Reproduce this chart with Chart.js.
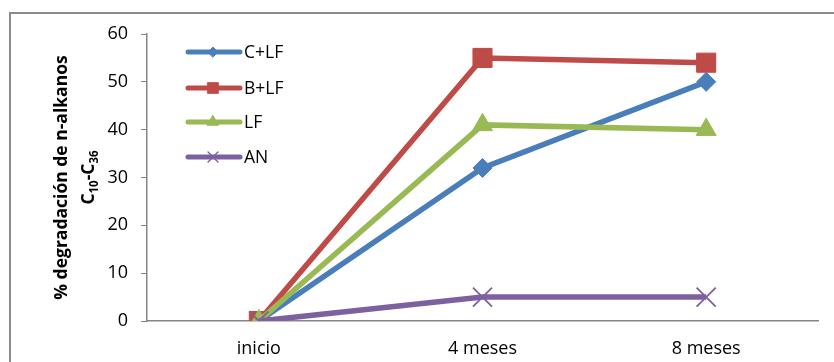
<!DOCTYPE html>
<html>
<head>
<meta charset="utf-8">
<script src="https://cdn.jsdelivr.net/npm/chart.js@4/dist/chart.umd.min.js"></script>
<style>
  html, body { margin: 0; padding: 0; background: #fff; }
  #wrap { width: 834px; height: 362px; position: relative; }
</style>
</head>
<body>
<div id="wrap"><canvas id="c" width="834" height="362"></canvas></div>
<script>
// Time points and degradation percentages per treatment
const categories = ['inicio', '4 meses', '8 meses'];
const seriesNames = ['C+LF', 'B+LF', 'LF', 'AN'];
const cLF = [0, 32, 50];
const bLF = [0, 55, 54];
const lf = [0, 41, 40];
const an = [0, 5, 5];
const yTicks = [0, 10, 20, 30, 40, 50, 60];

const FONT = '"Open Sans", "Liberation Sans", sans-serif';
const seriesValues = [cLF, bLF, lf, an];
const colors = ['#4a7ebb', '#be4b48', '#98b954', '#7d60a0'];
const styles = ['rectRot', 'rect', 'triangle', 'crossRot'];
const radii = [9.5, 13.5, 11.5, 13.5];
const legendRadii = [5, 7.5, 6.5, 7];

const datasets = seriesNames.map((name, i) => ({
  label: name,
  data: seriesValues[i],
  borderColor: colors[i],
  backgroundColor: colors[i],
  borderWidth: 5.5,
  pointStyle: styles[i],
  pointRadius: radii[i],
  pointBorderColor: colors[i],
  pointBackgroundColor: colors[i],
  pointBorderWidth: styles[i] === 'crossRot' ? 1.8 : 1,
  order: seriesNames.length - i,
  tension: 0,
  fill: false
}));

// Outer frame, rotated axis title with subscripts, and the inset legend
const decor = {
  id: 'decor',
  beforeDraw(chart) {
    const ctx = chart.ctx;
    ctx.save();
    ctx.fillStyle = '#fff';
    ctx.fillRect(0, 0, chart.width, chart.height);
    ctx.strokeStyle = '#8c8c8c';
    ctx.lineWidth = 2;
    ctx.strokeRect(10, 13, chart.width + 20, chart.height + 20);
    ctx.restore();
  },
  afterDraw(chart) {
    const ctx = chart.ctx;
    const area = chart.chartArea;
    const cy = (area.top + area.bottom) / 2;
    ctx.save();
    ctx.fillStyle = '#000';
    // axis title line 1
    ctx.translate(62, cy);
    ctx.rotate(-Math.PI / 2);
    ctx.textAlign = 'center';
    ctx.textBaseline = 'middle';
    ctx.font = 'bold 17.5px ' + FONT;
    ctx.fillText('% degradación de n-alkanos', 0, 0);
    ctx.restore();

    // axis title line 2: C10-C36 with subscripts
    ctx.save();
    ctx.fillStyle = '#000';
    ctx.translate(89, cy);
    ctx.rotate(-Math.PI / 2);
    ctx.textBaseline = 'middle';
    const parts = [['C', false], ['10', true], ['-C', false], ['36', true]];
    const big = 'bold 17.5px ' + FONT;
    const small = 'bold 11.5px ' + FONT;
    let total = 0;
    parts.forEach(([t, sub]) => { ctx.font = sub ? small : big; total += ctx.measureText(t).width; });
    let x = -total / 2;
    parts.forEach(([t, sub]) => {
      ctx.font = sub ? small : big;
      ctx.fillText(t, x, sub ? 6 : 0);
      x += ctx.measureText(t).width;
    });
    ctx.restore();

    // legend
    const rowsY = [52, 88, 122, 157];
    seriesNames.forEach((name, i) => {
      const y = rowsY[i];
      ctx.save();
      ctx.strokeStyle = colors[i];
      ctx.lineWidth = 5;
      ctx.lineCap = 'round';
      ctx.beginPath();
      ctx.moveTo(188, y);
      ctx.lineTo(240, y);
      ctx.stroke();
      ctx.fillStyle = colors[i];
      ctx.strokeStyle = colors[i];
      ctx.lineWidth = styles[i] === 'crossRot' ? 1.4 : 1;
      Chart.helpers.drawPoint(ctx, { pointStyle: styles[i], radius: legendRadii[i], rotation: 0, borderWidth: ctx.lineWidth }, 213, y);
      ctx.fillStyle = '#000';
      ctx.font = '17.5px ' + FONT;
      ctx.textBaseline = 'middle';
      ctx.textAlign = 'left';
      ctx.fillText(name, 244, y + 1);
      ctx.restore();
    });
  }
};

new Chart(document.getElementById('c'), {
  type: 'line',
  data: { labels: categories, datasets },
  plugins: [decor],
  options: {
    responsive: false,
    animation: false,
    layout: { padding: { left: 0, right: 16, top: 34, bottom: 0 } },
    plugins: { legend: { display: false }, tooltip: { enabled: false } },
    scales: {
      x: {
        offset: true,
        grid: { display: true, drawOnChartArea: false, drawTicks: false },
        border: { display: true, color: '#868686', width: 1.5 },
        ticks: { color: '#000', font: { family: FONT, size: 18 }, padding: 17 },
        afterFit(scale) { scale.height = 41; }
      },
      y: {
        min: 0,
        max: 60,
        afterBuildTicks(scale) { scale.ticks = yTicks.map(v => ({ value: v })); },
        grid: { display: true, drawOnChartArea: false, drawTicks: true, tickLength: 6, color: '#868686' },
        border: { display: true, color: '#868686', width: 1.5 },
        ticks: { color: '#000', font: { family: FONT, size: 18 }, padding: 13 },
        afterFit(scale) { scale.width = 147; }
      }
    }
  }
});
</script>
</body>
</html>
